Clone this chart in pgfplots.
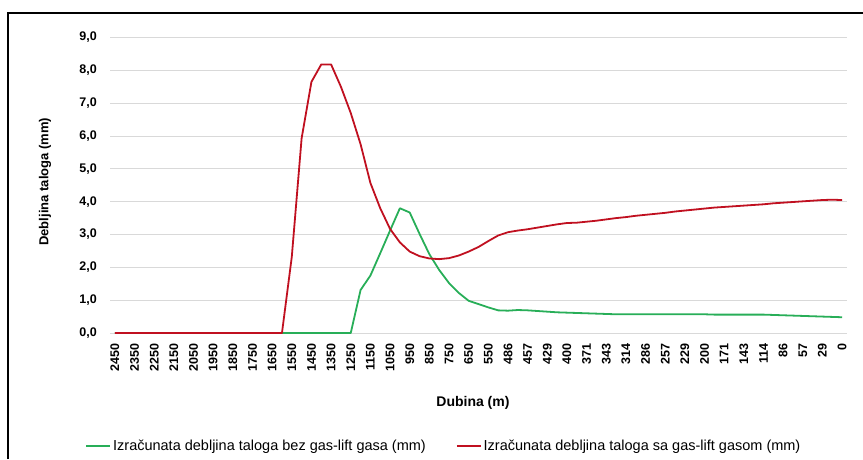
\documentclass[border=0pt]{standalone}
\usepackage{fontspec}
\setmainfont{Liberation Sans}
\usepackage{pgfplots}
\usepackage{pgfplotstable}
\pgfplotsset{compat=1.18}
\definecolor{cgreen}{RGB}{40,174,88}
\definecolor{cred}{RGB}{192,16,32}
\definecolor{cgrid}{RGB}{217,217,217}

\pgfplotstableread{
idx green red
0 0 0
1 0 0
2 0 0
3 0 0
4 0 0
5 0 0
6 0 0
7 0 0
8 0 0
9 0 0
10 0 0
11 0 0
12 0 0
13 0 0
14 0 0
15 0 0
16 0 0
17 0 0
18 0 2.32
19 0 5.93
20 0 7.65
21 0 8.18
22 0 8.18
23 0 7.50
24 0 6.70
25 1.31 5.75
26 1.75 4.57
27 2.43 3.80
28 3.12 3.17
29 3.80 2.76
30 3.67 2.48
31 3.02 2.34
32 2.40 2.27
33 1.92 2.25
34 1.52 2.28
35 1.22 2.36
36 0.98 2.48
37 0.88 2.62
38 0.78 2.80
39 0.69 2.97
40 0.68 3.07
41 0.70 3.12
42 0.69 3.16
43 0.67 3.21
44 0.65 3.26
45 0.63 3.31
46 0.62 3.35
47 0.61 3.36
48 0.60 3.39
49 0.59 3.42
50 0.58 3.46
51 0.57 3.50
52 0.57 3.53
53 0.57 3.57
54 0.57 3.60
55 0.57 3.63
56 0.57 3.66
57 0.57 3.70
58 0.57 3.73
59 0.57 3.76
60 0.57 3.79
61 0.56 3.82
62 0.56 3.84
63 0.56 3.86
64 0.56 3.88
65 0.56 3.90
66 0.56 3.92
67 0.55 3.95
68 0.54 3.97
69 0.53 3.99
70 0.52 4.01
71 0.51 4.03
72 0.50 4.05
73 0.49 4.06
74 0.48 4.05
}\data

\begin{document}
\begin{tikzpicture}[x=1pt,y=1pt]
\path[use as bounding box] (0,0) rectangle (863,459);
\draw[line width=2.5pt] (8,0) -- (8,446) -- (863,446);
\begin{axis}[
  at={(110pt,126pt)}, anchor=south west,
  scale only axis, width=737pt, height=295.5pt,
  xmin=-0.5, xmax=74.5, ymin=0, ymax=9,
  axis x line*=bottom, axis y line*=left,
  x axis line style={draw=cgrid, line width=0.9pt},
  y axis line style={draw=none},
  major tick length=0pt,
  ymajorgrids, grid style={cgrid, line width=0.9pt},
  ytick={0,1,...,9},
  /pgf/number format/.cd, fixed, fixed zerofill, precision=1, use comma, assume math mode=true,
  /pgfplots/.cd,
  yticklabel style={font=\bfseries\fontsize{12.5}{14}\selectfont, inner sep=0pt},
  yticklabel shift=13pt,
  xtick={0,2,...,74},
  xticklabels={2450,2350,2250,2150,2050,1950,1850,1750,1650,1550,1450,1350,1250,1150,1050,950,850,750,650,550,486,457,429,400,371,343,314,286,257,229,200,171,143,114,86,57,29,0},
  xticklabel style={rotate=90, anchor=east, font=\bfseries\fontsize{12.5}{14}\selectfont, inner sep=0pt},
  xticklabel shift=10pt,
  xlabel={Dubina (m)},
  xlabel style={at={(0.4925,-0.237)}, anchor=center, font=\bfseries\fontsize{14}{16}\selectfont},
  ylabel={Debljina taloga (mm)},
  ylabel style={at={(-0.088,0.512)}, anchor=center, font=\bfseries\fontsize{13}{15}\selectfont},
  legend columns=2,
  legend style={at={(0.453,-0.382)}, anchor=center, draw=none, fill=none,
    font=\fontsize{14.5}{16}\selectfont,
    /tikz/every even column/.append style={column sep=28pt}},
  legend image code/.code={\draw[#1] (0pt,0pt) -- (24pt,0pt);},
]
\addplot[cgreen, line width=1.8pt, line join=round] table[x=idx, y=green] {\data};
\addlegendentry{Izračunata debljina taloga bez gas-lift gasa (mm)}
\addplot[cred, line width=1.8pt, line join=round] table[x=idx, y=red] {\data};
\addlegendentry{Izračunata debljina taloga sa gas-lift gasom (mm)}
\end{axis}
\end{tikzpicture}
\end{document}
